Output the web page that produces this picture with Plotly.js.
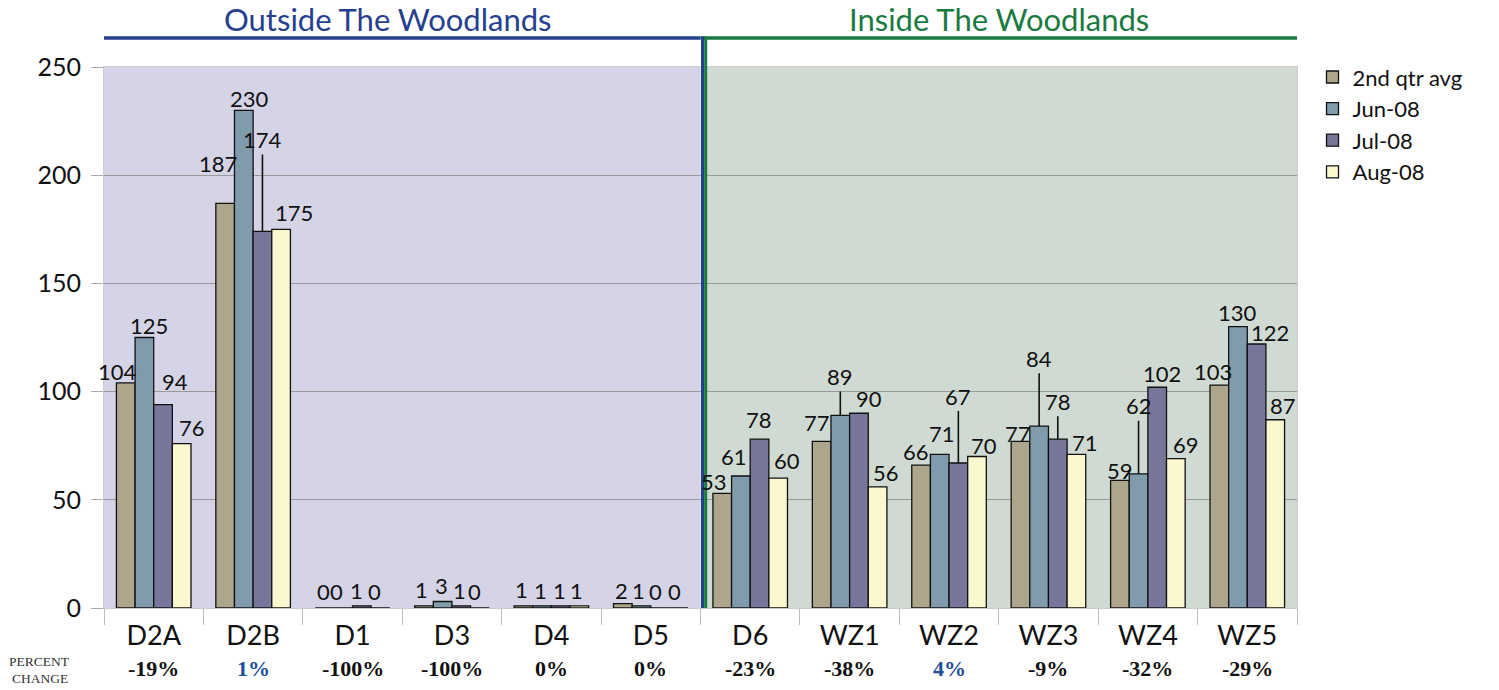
<!DOCTYPE html>
<html>
<head>
<meta charset="utf-8">
<script src="https://cdn.plot.ly/plotly-3.0.1.min.js"></script>
<style>html,body{margin:0;padding:0;background:#fff;}#chart{width:1499px;height:690px;}</style>
</head>
<body>
<div id="chart"></div>
<script>
// ---- data ----
const categories = ['D2A','D2B','D1','D3','D4','D5','D6','WZ1','WZ2','WZ3','WZ4','WZ5'];
const seriesNames = ['2nd qtr avg','Jun-08','Jul-08','Aug-08'];
const qtrAvg = [104,187,0,1,1,2,53,77,66,77,59,103];
const jun08  = [125,230,0,3,1,1,61,89,71,84,62,130];
const jul08  = [94,174,1,1,1,0,78,90,67,78,102,122];
const aug08  = [76,175,0,0,1,0,60,56,70,71,69,87];
const percentChange = ['-19%','1%','-100%','-100%','0%','0%','-23%','-38%','4%','-9%','-32%','-29%'];
const regionTitles = ['Outside The Woodlands','Inside The Woodlands'];
const regionSizes = [6,6];
const yTicks = [0,50,100,150,200,250];
const rowLabel = ['PERCENT','CHANGE'];

// ---- styles ----
const seriesColors = ['#ada68c','#7f9bac','#77769b','#fbf8cf'];
const regionFill = ['#d5d4e7','#cfdbd2'];
const regionLine = ['#26408f','#1a7a40'];
const titleShift = [-15, 0];
const FONT = 'Lato, "Open Sans", sans-serif';
const SERIF = '"Liberation Serif", "DejaVu Serif", serif';
// label placement tweaks: [dx px, up px] or {leader: ay px}
const labelTweaks = [
  [[-8,11],[-7,40],[-1,17],[-3,16],[-2,16],[-1,13],[-8,12],[-5,19],[-5,14],[-3,8],[0,10],[-6,14]],
  [[5,12],[6,12],[-7,17],[-1,16],[-2,15],[-3,15],[-7,20],{leader:-39},[2,21],{leader:-68},{leader:-68},[0,14]],
  [[12,23],{leader:-92},[-5,15],[-2,15],[-1,15],[-5,17],[-1,20],[10,15],{leader:-67},{leader:-38},[5,14],[13,11]],
  [[10,16],[13,17],[-6,17],[-5,17],[-3,15],[-4,17],[9,18],[8,14],[7,11],[9,12],[10,14],[8,14]]
];

const series = [qtrAvg, jun08, jul08, aug08];
const BARGAP = 0.25;
const barW = (1 - BARGAP) / series.length;

const traces = series.map((vals, k) => ({
  type: 'bar',
  name: seriesNames[k],
  x: categories,
  y: vals,
  marker: {color: seriesColors[k], line: {color: '#111', width: 1.3}},
  hoverinfo: 'x+y+name'
}));

const annotations = [];
series.forEach((vals, k) => {
  vals.forEach((v, i) => {
    const xc = i + (k - (series.length - 1) / 2) * barW;
    const t = labelTweaks[k][i];
    if (t && t.leader !== undefined) {
      annotations.push({
        xref: 'x', yref: 'y', x: xc, y: v, text: String(v),
        showarrow: true, arrowhead: 0, arrowwidth: 1.6, arrowcolor: '#111',
        ax: 0, ay: t.leader, standoff: 0,
        font: {family: FONT, size: 22, color: '#111'}
      });
    } else {
      annotations.push({
        xref: 'x', yref: 'y', x: xc, y: v, text: String(v),
        showarrow: false, xanchor: 'center', yanchor: 'middle',
        xshift: t[0], yshift: t[1],
        font: {family: FONT, size: 22, color: '#111'}
      });
    }
  });
});

// percent change row
percentChange.forEach((p, i) => {
  annotations.push({
    xref: 'x', yref: 'paper', x: i, y: -0.111, text: '<b>' + p + '</b>',
    showarrow: false, xanchor: 'center', yanchor: 'middle',
    font: {family: SERIF, size: 22, color: parseFloat(p) > 0 ? '#1f4e9a' : '#111'}
  });
});
rowLabel.forEach((s, j) => {
  annotations.push({
    xref: 'paper', yref: 'paper', x: -0.054, y: j === 0 ? -0.0998 : -0.131, text: s,
    showarrow: false, xanchor: 'center', yanchor: 'middle',
    font: {family: SERIF, size: 13.5, color: '#333'}
  });
});

// region titles, backgrounds, dividers
const shapes = [];
let start = -0.5;
regionSizes.forEach((n, r) => {
  const end = start + n;
  shapes.push({type: 'rect', layer: 'below', xref: 'x', yref: 'y', x0: start, x1: end,
    y0: 0, y1: yTicks[yTicks.length - 1], fillcolor: regionFill[r], line: {width: 0}});
  shapes.push({type: 'line', xref: 'x', yref: 'paper', x0: start, x1: end, y0: 1.0536, y1: 1.0536,
    line: {color: regionLine[r], width: 3.5}});
  annotations.push({xref: 'x', yref: 'paper', x: (start + end) / 2, y: 1.0536, yanchor: 'middle',
    yshift: 19, xshift: titleShift[r],
    text: regionTitles[r], showarrow: false,
    font: {family: FONT, size: 31, color: regionLine[r]}});
  start = end;
});
const divider = -0.5 + regionSizes[0];
shapes.push({type: 'rect', xref: 'x', yref: 'paper', xsizemode: 'pixel', xanchor: divider,
  x0: 0.5, x1: 3.7, y0: 0, y1: 1.0536 + 0.003, fillcolor: regionLine[0], line: {width: 0}});
shapes.push({type: 'rect', xref: 'x', yref: 'paper', xsizemode: 'pixel', xanchor: divider,
  x0: 3.7, x1: 6.7, y0: 0, y1: 1.0536 + 0.003, fillcolor: regionLine[1], line: {width: 0}});

const layout = {
  width: 1499, height: 690,
  margin: {l: 104, r: 202, t: 67, b: 82, autoexpand: false},
  paper_bgcolor: '#fff', plot_bgcolor: '#fff',
  barmode: 'group', bargap: BARGAP, bargroupgap: 0,
  showlegend: true,
  legend: {x: 1.013, xanchor: 'left', y: 1.02, yanchor: 'top',
    font: {family: FONT, size: 22, color: '#111'}, bgcolor: 'rgba(0,0,0,0)',
    tracegroupgap: 0, itemwidth: 30},
  xaxis: {type: 'category', range: [-0.5, categories.length - 0.5], autorange: false,
    tickson: 'boundaries', ticks: 'outside', ticklen: 16, ticklabelstandoff: 4,
    tickcolor: '#bbb', tickwidth: 1, showline: true, linecolor: '#ccc', mirror: true,
    showgrid: false, automargin: false,
    tickfont: {family: FONT, size: 27, color: '#111'}, fixedrange: true},
  yaxis: {range: [0, 250], autorange: false, tickvals: yTicks, ticks: 'outside', ticklen: 12, tickcolor: '#aaa',
    showgrid: true, gridcolor: '#9a9a9a', gridwidth: 1, zeroline: false,
    showline: true, linecolor: '#ccc', mirror: true, ticklabelstandoff: 5, automargin: false,
    tickfont: {family: FONT, size: 25, color: '#111'}, fixedrange: true},
  shapes: shapes,
  annotations: annotations
};

Plotly.newPlot('chart', traces, layout, {displayModeBar: false, staticPlot: true});
</script>
</body>
</html>
